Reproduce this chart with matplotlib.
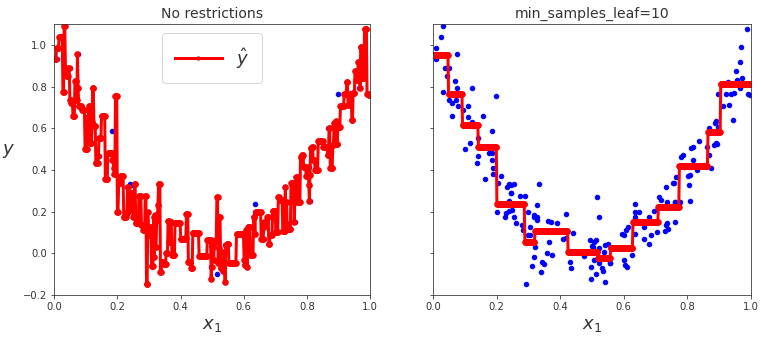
import matplotlib
matplotlib.use("Agg")
import matplotlib.pyplot as plt
import numpy as np

# training points
x_data = [0.032, 0.024, 0.008, 0.008, 0.076, 0.037, 0.050, 0.042, 0.069, 0.076,
          0.030, 0.123, 0.197, 0.050, 0.058, 0.071, 0.079, 0.095, 0.110, 0.060,
          0.110, 0.121, 0.158, 0.126, 0.142, 0.184, 0.116, 0.100, 0.142, 0.137,
          0.174, 0.184, 0.184, 0.189, 0.189, 0.163, 0.214, 0.205, 0.232, 0.245,
          0.245,
          0.240, 0.253, 0.244, 0.274, 0.290, 0.332, 0.240, 0.202, 0.230, 0.237,
          0.248, 0.226, 0.253, 0.261, 0.297, 0.328, 0.279, 0.284, 0.305, 0.316,
          0.327, 0.327, 0.360, 0.370, 0.390, 0.419, 0.305, 0.298, 0.321, 0.366,
          0.358, 0.375, 0.316, 0.342, 0.350, 0.311, 0.339, 0.293, 0.440, 0.430,
          0.435, 0.410, 0.474, 0.498, 0.497, 0.503, 0.514, 0.507, 0.516, 0.522,
          0.521, 0.514, 0.505, 0.318,
          0.500, 0.521, 0.537, 0.542, 0.549, 0.532, 0.535, 0.542, 0.558, 0.600,
          0.605, 0.611, 0.596, 0.600, 0.608, 0.626, 0.637, 0.637, 0.647, 0.634,
          0.663, 0.666, 0.679, 0.663, 0.679, 0.686, 0.695, 0.705, 0.716, 0.710,
          0.732, 0.732, 0.735, 0.739, 0.756, 0.763, 0.761, 0.735, 0.495, 0.613,
          0.556, 0.418, 0.636, 0.729,
          0.987, 0.970, 0.966, 0.953, 0.974, 0.956, 0.928, 0.992, 0.966, 0.937,
          0.947, 0.897, 0.921, 0.931, 0.913, 0.943, 0.892, 0.887, 0.898, 0.868,
          0.890, 0.895, 0.884, 0.837, 0.863, 0.813, 0.818, 0.787, 0.782, 0.819,
          0.868, 0.805, 0.832, 0.876, 0.810, 0.802, 0.766, 0.757, 0.805, 0.762,
          0.777, 0.808, 0.790, 0.997]
y_data = [1.093, 1.040, 0.984, 0.931, 0.957, 0.888, 0.888, 0.853, 0.827, 0.792,
          0.776, 0.792, 0.757, 0.736, 0.720, 0.736, 0.707, 0.688, 0.707, 0.659,
          0.653, 0.632, 0.659, 0.611, 0.552, 0.589, 0.528, 0.499, 0.467, 0.435,
          0.483, 0.483, 0.448, 0.408, 0.381, 0.355, 0.371, 0.336, 0.320, 0.328,
          0.288,
          0.331, 0.331, 0.288, 0.275, 0.275, 0.331, 0.253, 0.200, 0.192, 0.205,
          0.208, 0.176, 0.176, 0.147, 0.200, 0.232, 0.136, 0.112, 0.128, 0.176,
          0.176, 0.160, 0.157, 0.152, 0.147, 0.187, 0.088, 0.088, 0.032, 0.054,
          0.003, -0.007, -0.016, -0.040, -0.053, -0.060, -0.090, -0.149, 0.096, -0.040,
          -0.072, 0.069, -0.013, -0.064, -0.125, 0.032, 0.064, 0.053, 0.272, 0.176,
          -0.045, -0.099, -0.032, 0.184,
          0.035, 0.024, 0.008, 0.040, 0.045, -0.072, -0.085, -0.136, -0.048, -0.032,
          -0.056, -0.064, 0.093, 0.088, 0.112, -0.008, 0.237, 0.200, 0.200, 0.173,
          0.125, 0.152, 0.173, 0.067, 0.043, 0.088, 0.205, 0.104, 0.256, 0.272,
          0.320, 0.136, 0.147, 0.115, 0.336, 0.248, 0.152, 0.248, 0.064, 0.125,
          -0.048, 0.072, 0.091, 0.105,
          1.075, 0.992, 0.918, 0.877, 0.840, 0.832, 0.824, 0.765, 0.795, 0.765,
          0.771, 0.765, 0.765, 0.712, 0.707, 0.640, 0.635, 0.627, 0.608, 0.600,
          0.528, 0.525, 0.520, 0.541, 0.512, 0.504, 0.512, 0.472, 0.464, 0.448,
          0.472, 0.416, 0.400, 0.408, 0.376, 0.371, 0.368, 0.336, 0.326, 0.248,
          0.248, 0.251, 0.413, 0.760]

# leaf boundaries and leaf values of the min_samples_leaf=10 tree
split_x = [0.047, 0.092, 0.142, 0.200, 0.287, 0.319, 0.424, 0.518, 0.558,
           0.629, 0.708, 0.774, 0.865, 0.905]
leaf_y = [0.952, 0.763, 0.614, 0.512, 0.237, 0.056, 0.107, 0.008, -0.021,
          0.024, 0.149, 0.224, 0.420, 0.584, 0.811]

X = np.array(x_data)
y = np.array(y_data)
order = np.argsort(X)
Xs, ys = X[order], y[order]

x1 = np.linspace(0, 1, 500)
# unrestricted tree: each training point owns the interval up to the midpoints
mids = (Xs[1:] + Xs[:-1]) / 2
y_pred1 = ys[np.searchsorted(mids, x1)]
y_pred2 = np.array(leaf_y)[np.searchsorted(split_x, x1)]

gray = "#333333"
plt.rcParams["text.color"] = gray
plt.rcParams["axes.edgecolor"] = gray
plt.rcParams["xtick.color"] = gray
plt.rcParams["ytick.color"] = gray
plt.rcParams["axes.labelcolor"] = gray

fig = plt.figure(figsize=(761 / 72, 343 / 72), dpi=72)
ax1 = fig.add_axes([0.071, 0.140, 0.4155, 0.7895])
ax2 = fig.add_axes([0.5694, 0.140, 0.4170, 0.7895], sharey=ax1)

for ax, yp, title in [(ax1, y_pred1, "No restrictions"),
                      (ax2, y_pred2, "min_samples_leaf=10")]:
    ax.plot(X, y, "b.", ms=9)
    ax.plot(x1, yp, "r.-", linewidth=3, ms=11, label=r"$\hat{y}$")
    ax.axis([0, 1, -0.2, 1.1])
    ax.set_xlabel("$x_1$", fontsize=18)
    ax.set_title(title, fontsize=14)

ax1.set_ylabel("$y$", fontsize=18, rotation=0)
ax1.yaxis.set_label_coords(-0.145, 0.5)
ax1.legend(loc="upper center", fontsize=18, handlelength=2.6,
           borderpad=0.7, markerscale=0.6)
ax2.tick_params(labelleft=False)

plt.savefig("out.png", dpi=72)
